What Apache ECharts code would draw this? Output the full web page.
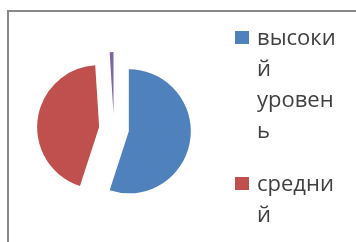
<!DOCTYPE html>
<html>
<head>
<meta charset="utf-8">
<script src="https://cdn.jsdelivr.net/npm/echarts@6/dist/echarts.min.js"></script>
<style>
html, body { margin: 0; padding: 0; background: #fff; overflow: hidden; }
#frame { position: absolute; left: 7px; top: 10px; width: 420px; height: 320px; border: 2px solid #888; }
#main { position: absolute; left: 0; top: 0; width: 356px; height: 242px; }
</style>
</head>
<body>
<div id="frame"></div>
<div id="main"></div>
<script>
var categories = ['высокий уровень', 'средний', 'низкий уровень'];
var values = [55, 44, 1];
var colors = ['#4F81BD', '#C0504D', '#8064A2'];

// перенос подписи легенды как в Excel: по 6 букв в строке, слово с новой строки
function wrapName(name) {
	var lines = [];
	var words = name.split(' ');
	for (var i = 0; i < words.length; i++) {
		var w = words[i];
		while (w.length > 6) {
			lines.push(w.slice(0, 6));
			w = w.slice(6);
		}
		lines.push(w);
	}
	while (lines.length < 4) {
		lines.push('');
	}
	return lines.join('\n');
}

var pieData = [];
for (var i = 0; i < categories.length; i++) {
	pieData.push({
		name : categories[i],
		value : values[i],
		selected : true
	});
}

var option = {
	animation : false,
	color : colors,
	legend : {
		orient : 'vertical',
		left : 235,
		top : 23,
		height : 800,
		padding : 0,
		itemWidth : 17,
		itemHeight : 124,
		itemGap : 22,
		// квадрат сверху, чтобы стоял у первой строки подписи
		icon : 'path://M0,0M0,8h14v13h-14zM17,124h0',
		selectedMode : false,
		data : categories,
		formatter : wrapName,
		textStyle : {
			fontFamily : 'Open Sans',
			fontSize : 22,
			lineHeight : 31,
			color : '#404040'
		}
	},
	series : [ {
		type : 'pie',
		center : [ 114, 129 ],
		radius : 62,
		startAngle : 90,
		clockwise : true,
		selectedMode : 'multiple',
		selectedOffset : 15,
		label : { show : false },
		labelLine : { show : false },
		emphasis : { disabled : true },
		data : pieData
	} ]
};

var myChart = echarts.init(document.getElementById('main'));
myChart.setOption(option, true);
</script>
</body>
</html>
